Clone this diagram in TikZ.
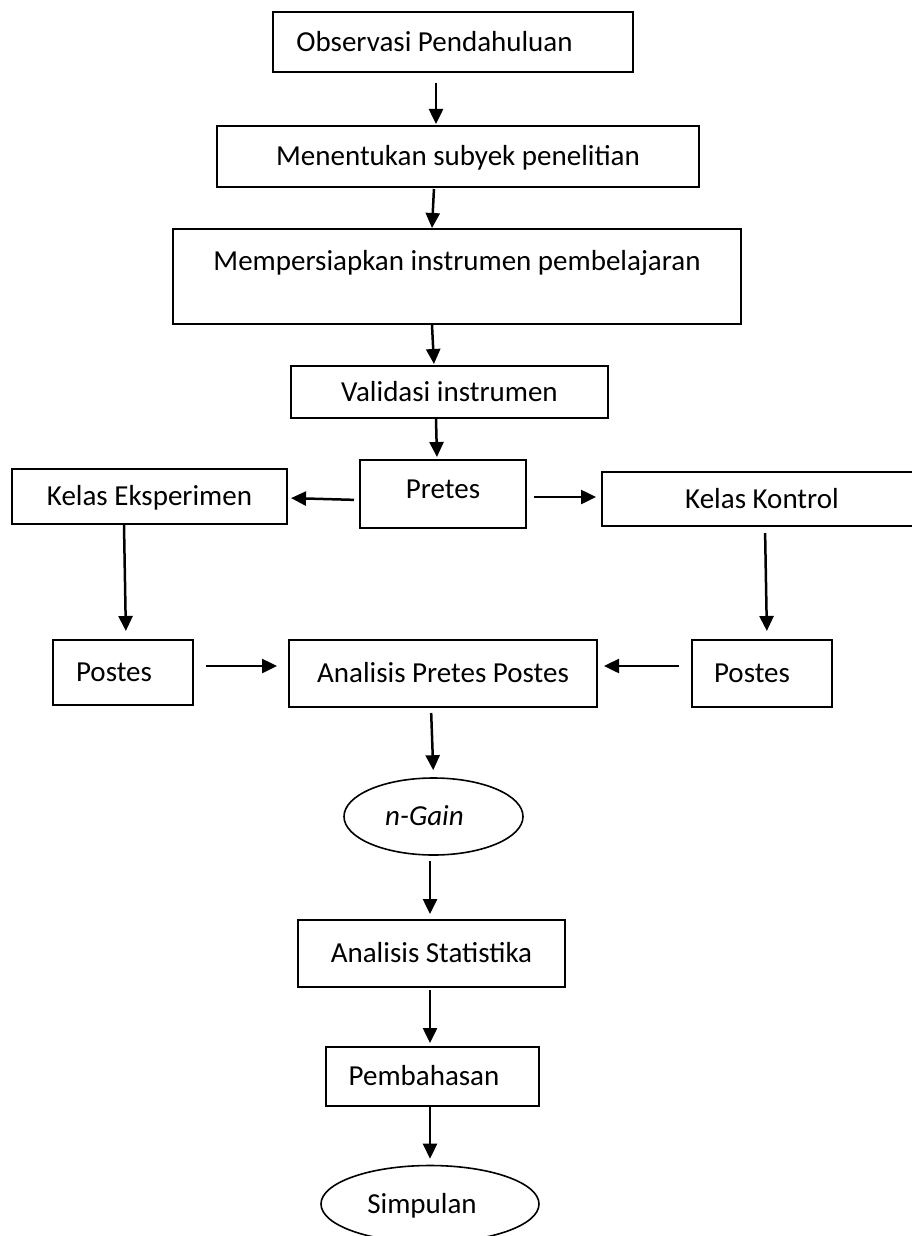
\documentclass[tikz,border=0pt]{standalone}
\usepackage{fontspec}
\setmainfont{Carlito}
\usepackage{tikz}
\usetikzlibrary{shapes.geometric,arrows.meta}
\newcommand{\gap}[1]{\rule{#1}{0pt}}
\tikzstyle{flow}=[x=1pt,y=-1pt]
\tikzstyle{box}=[rectangle, draw, line width=2pt, inner sep=4pt, font=\fontsize{29}{35}\selectfont, text height=21.75pt, text depth=3pt]
\tikzstyle{oval}=[ellipse, draw, line width=1.6pt, inner sep=0pt, font=\fontsize{29}{35}\selectfont, text height=21.75pt, text depth=3pt]
\tikzstyle{edge}=[line width=2.5pt, -{Triangle[length=15pt,width=14pt]}, shorten <=2pt, shorten >=2pt]

\begin{document}
\begin{tikzpicture}[flow]
				\useasboundingbox (0,0) rectangle (912,1236);
				
				%The main column
				\draw (453,42) node[box, minimum width=360pt, minimum height=60pt] (obs) {Observasi Pendahuluan\gap{37pt}};
				\draw (458,156.5) node[box, minimum width=482pt, minimum height=61pt] (sub) {Menentukan subyek penelitian};
				\draw (457,276.5) node[box, minimum width=568pt, minimum height=95pt, text depth=34pt] (ins) {Mempersiapkan instrumen pembelajaran};
				\draw (449.5,392) node[box, minimum width=317pt, minimum height=52pt] (val) {Validasi instrumen};
				\draw (443,494) node[box, minimum width=166pt, minimum height=68pt, text depth=12pt] (pre) {Pretes};
				
				%The two classes
				\draw (149.5,496.5) node[box, minimum width=275pt, minimum height=55pt] (eks) {Kelas Eksperimen};
				\draw (762,499) node[box, minimum width=320pt, minimum height=54pt] (kon) {Kelas Kontrol};
				\draw (123,672.5) node[box, minimum width=140pt, minimum height=65pt] (pe) {Postes\gap{18pt}};
				\draw (762,673.5) node[box, minimum width=140pt, minimum height=67pt] (pk) {Postes\gap{20pt}};
				\draw (443,673.5) node[box, minimum width=308pt, minimum height=67pt] (ana) {Analisis Pretes Postes};
				
				%The end of the flow
				\draw (433.5,816.5) node[oval, minimum width=179pt, minimum height=77pt] (gain) {\itshape n-Gain\gap{18pt}};
				\draw (431.5,953.5) node[box, minimum width=267pt, minimum height=67pt] (stat) {Analisis Statistika};
				\draw (432.5,1076.5) node[box, minimum width=213pt, minimum height=59pt] (bah) {Pembahasan\gap{17pt}};
				\draw (430,1204) node[oval, minimum width=218pt, minimum height=77pt] (simp) {Simpulan\gap{16pt}};
				
				\draw[edge, shorten <=10pt, shorten >=1pt] ([xshift=-17pt]obs.south) -- ([xshift=-22pt]sub.north);
				\draw[edge, shorten <=1pt, shorten >=0pt] ([xshift=-24pt]sub.south) -- ([xshift=-25pt]ins.north);
				\draw[edge, shorten <=0pt, shorten >=1pt] ([xshift=-25pt]ins.south) -- ([xshift=-15.5pt]val.north);
				\draw[edge, shorten <=0pt] ([xshift=-13.5pt]val.south) -- ([xshift=-6pt]pre.north);
				
				\draw[edge, shorten <=5pt, shorten >=3pt] ([yshift=-6pt]pre.west) -- ([yshift=-1.5pt]eks.east);
				\draw[edge, shorten <=7pt, shorten >=5pt] ([yshift=-3pt]pre.east) -- ([yshift=2pt]kon.west);
				\draw[edge, shorten <=0pt, shorten >=8pt] ([xshift=-25.5pt]eks.south) -- ([xshift=3pt]pe.north);
				\draw[edge, shorten <=6pt, shorten >=8pt] ([xshift=3pt]kon.south) -- ([xshift=5pt]pk.north);
				
				\draw[edge, shorten <=12pt, shorten >=11pt] ([yshift=6.5pt]pe.east) -- ([yshift=7.5pt]ana.west);
				\draw[edge, shorten <=12pt, shorten >=6pt] ([yshift=7.5pt]pk.west) -- ([yshift=7.5pt]ana.east);
				
				\draw[edge, shorten <=5pt, shorten >=7pt] ([xshift=-12pt]ana.south) -- (gain.north);
				\draw[edge, shorten <=5pt, shorten >=5pt] ([xshift=-3.5pt]gain.south) -- ([xshift=-1.5pt]stat.north);
				\draw[edge, shorten <=2pt, shorten >=3pt] ([xshift=-1.5pt]stat.south) -- ([xshift=-2.5pt]bah.north);
				\draw[edge, shorten <=0pt, shorten >=6pt] ([xshift=-2.5pt]bah.south) -- (simp.north);
\end{tikzpicture}
\end{document}
